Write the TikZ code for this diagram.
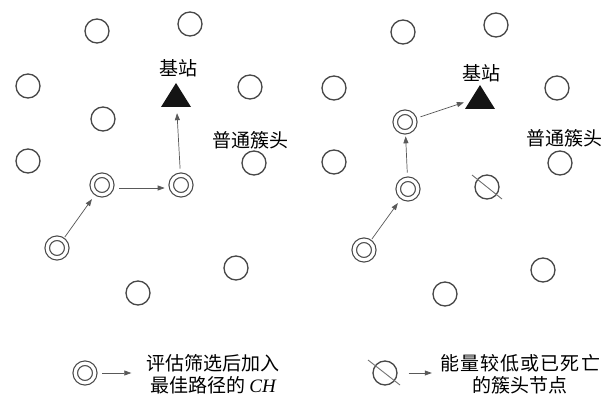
\documentclass[tikz,border=0pt]{standalone}
\usepackage{fontspec}
\setmainfont{Liberation Serif}
\newfontfamily\cjk{Noto Sans CJK SC}
\usetikzlibrary{arrows.meta}
\begin{document}
\begin{tikzpicture}[x=1pt,y=-1pt,
  nd/.style={circle,draw=black!72,line width=1.3pt,minimum size=24pt,inner sep=0pt},
  dnd/.style={circle,draw=black!72,line width=1.15pt,double=white,double distance=3.3pt,minimum size=19.5pt,inner sep=0pt},
  bsn/.style={minimum width=30pt,minimum height=24pt,inner sep=0pt,
    path picture={\fill[black!92] (path picture bounding box.south west) -- (path picture bounding box.south east) -- (path picture bounding box.north) -- cycle;}},
  lbl/.style={font=\cjk\fontsize{19}{22}\selectfont,inner sep=0pt,text=black},
  legtext/.style={lbl,align=center},
  arr/.style={draw=black!65,line width=0.7pt,-{Triangle[length=7pt,width=5pt]},shorten >=6pt,shorten <=6pt},
  slash/.style={draw=black!55,line width=0.9pt},
]
\fill[white] (0,0) rectangle (614,396);
\useasboundingbox (0,0) rectangle (614,396);

% ---------- left panel ----------
\node[nd] (a1) at (97,31) {};
\node[nd] (a2) at (190,24) {};
\node[nd] (a3) at (28,86) {};
\node[nd] (a4) at (250,87) {};
\node[nd] (a5) at (103,119) {};
\node[nd] (a6) at (28,161) {};
\node[nd] (a7) at (254,163) {};
\node[nd] (a8) at (236,268) {};
\node[nd] (a9) at (138,293) {};
\node[dnd] (ad1) at (102,185) {};
\node[dnd] (ad2) at (181,185) {};
\node[dnd] (ad3) at (57,248) {};
\node[bsn] (abs) at (176,95) {};
\node[lbl] (albs) at (178,68) {基站};
\node[lbl] (alch) at (250,140) {普通簇头};
\draw[arr,shorten <=3pt,shorten >=7pt] (ad3) -- (ad1);
\draw[arr,shorten <=7pt] ([yshift=-3pt]ad1.east) -- ([yshift=-3pt]ad2.west);
\draw[arr] (ad2) -- (abs);

% ---------- right panel ----------
\node[nd] (b1) at (403,32) {};
\node[nd] (b2) at (496,25) {};
\node[nd] (b3) at (334,88) {};
\node[nd] (b4) at (557,88) {};
\node[nd] (b6) at (334,162) {};
\node[nd] (b7) at (560,163) {};
\node[nd] (b8) at (543,270) {};
\node[nd] (b9) at (445,294) {};
\node[dnd] (bd1) at (405,122) {};
\node[dnd] (bd2) at (408,189) {};
\node[dnd] (bd3) at (364,250) {};
\node[nd] (bx) at (487,187) {};
\draw[slash] ([shift={(-15,-12)}]bx.center) -- ([shift={(15,12)}]bx.center);
\node[bsn] (bbs) at (480,97) {};
\node[lbl] (blbs) at (481,73) {基站};
\node[lbl] (blch) at (564,138) {普通簇头};
\draw[arr,shorten <=3pt,shorten >=7pt] (bd3) -- (bd2);
\draw[arr,shorten >=4pt] (bd2) -- (bd1);
\draw[arr,shorten >=1pt] (bd1) -- (bbs);

% ---------- legend ----------
\node[dnd] (ld) at (85,373) {};
\node[legtext] (lt) at (213,374) {评估筛选后加入\\最佳路径的 {\rmfamily\itshape CH}};
\draw[arr,shorten <=7pt,shorten >=15pt] (ld.east) -- (ld.east -| lt.west);

\node[nd] (lx) at (385,373) {};
\draw[slash] ([shift={(-17,-13)}]lx.center) -- ([shift={(15,12)}]lx.center);
\node[legtext] (rt) at (520,374) {\makebox[160pt][s]{能\hfill 量\hfill 较\hfill 低\hfill 或\hfill 已\hfill 死\hfill 亡}\\的簇头节点};
\draw[arr,shorten <=11pt,shorten >=8pt] (lx.east) -- (lx.east -| rt.west);
\end{tikzpicture}
\end{document}
